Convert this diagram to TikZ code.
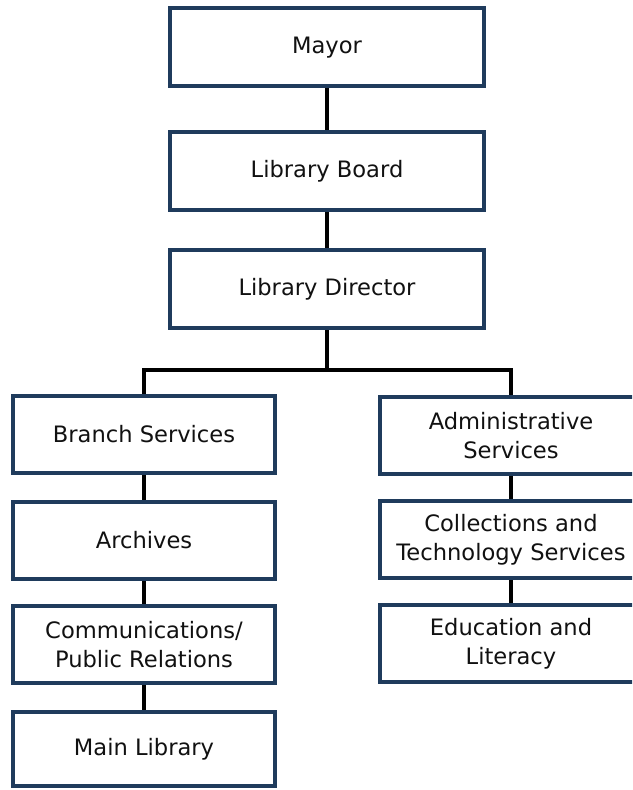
\documentclass[tikz,border=0pt]{standalone}
\usepackage{fontspec}
\setmainfont{DejaVu Sans}
\usepackage{xcolor}
\usepackage{tikz}
\usetikzlibrary{positioning}

\definecolor{boxline}{HTML}{1F3B5C}
\definecolor{textcol}{HTML}{111111}

\begin{document}
\begin{tikzpicture}[
  node distance=12pt,
  top/.style={draw=boxline, line width=2pt, fill=white, minimum width=157pt, minimum height=39pt, align=center, text=textcol, font=\fontsize{11.3}{14.5}\selectfont},
  unit/.style={draw=boxline, line width=2pt, fill=white, minimum width=131pt, minimum height=38.5pt, inner sep=2pt, align=center, text=textcol, font=\fontsize{11.3}{14.5}\selectfont},
  link/.style={draw=black, line width=2pt}
]
\useasboundingbox (-163.5pt,23.75pt) rectangle (152.5pt,-371.25pt);
\clip (-163.5pt,23.75pt) rectangle (152.5pt,-371.25pt);

\node[top] (mayor) at (0,0) {Mayor};
\node[top, below=21pt of mayor] (board) {Library Board};
\node[top, below=18pt of board] (director) {Library Director};

% left column
\node[unit, below=31.75pt of director.south, xshift=-91.5pt] (branch) {Branch Services};
\node[unit, below=12.5pt of branch] (archives) {Archives};
\node[unit, below=11.5pt of archives] (comms) {Communications/\\Public Relations};
\node[unit, below=12.5pt of comms, minimum height=37pt] (mainlib) {Main Library};

% right column
\node[unit, below=32.25pt of director.south, xshift=92pt] (admin) {Administrative\\Services};
\node[unit, below=11.5pt of admin] (collections) {Collections and\\Technology Services};
\node[unit, below=11.5pt of collections] (education) {Education and\\Literacy};

\coordinate (bar) at ([yshift=-19.75pt]director.south);

\draw[link] (mayor) -- (board);
\draw[link] (board) -- (director);
\draw[link] (director) -- (bar);
\draw[link] (branch.north) |- (bar) -| (admin.north);

\draw[link] (branch) -- (archives);
\draw[link] (archives) -- (comms);
\draw[link] (comms) -- (mainlib);

\draw[link] (admin) -- (collections);
\draw[link] (collections) -- (education);
\end{tikzpicture}
\end{document}
